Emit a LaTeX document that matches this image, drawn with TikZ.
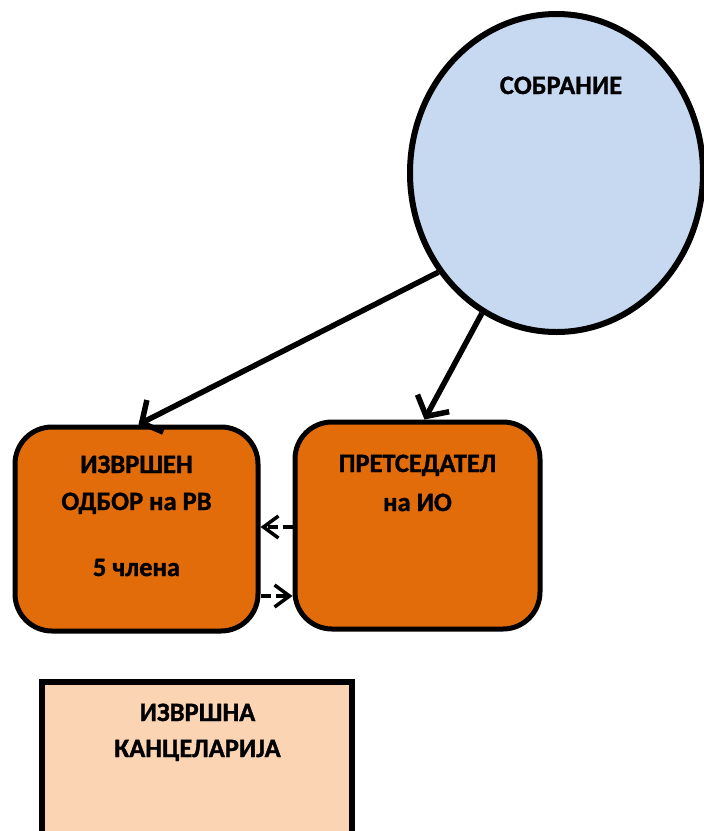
\documentclass[tikz,border=0pt]{standalone}
\usepackage{fontspec}
\setmainfont{Carlito}[BoldFeatures={FakeBold=1.2}]
\usetikzlibrary{shapes.geometric,arrows.meta,calc}
\definecolor{orangefill}{HTML}{E36C0A}
\definecolor{bluefill}{HTML}{C6D9F1}
\definecolor{peachfill}{HTML}{FBD4B4}
\tikzset{
  orgbox/.style={draw=black, line width=5pt, fill=orangefill, rounded corners=37pt, inner sep=0pt},
  txt/.style={anchor=base, inner sep=0pt, font=\bfseries\fontsize{26.5}{30}\selectfont},
  mainarrow/.style={line width=5.5pt, -{Straight Barb[length=15pt,width=36pt,line width=5.5pt]}},
  dasharrow/.style={line width=3.5pt, dash pattern=on 10pt off 5pt, -{Straight Barb[length=15pt,width=22pt,line width=3.5pt]}}
}
\begin{document}
\begin{tikzpicture}[x=1pt,y=-1pt]
\clip (0,0) rectangle (704,831);
\fill[white] (0,0) rectangle (704,831);
% ellipse
\node[ellipse, draw=black, line width=6pt, fill=bluefill, minimum width=293pt, minimum height=318pt, inner sep=0pt] (sobr) at (556.5,173) {};
\node[txt] (sobrt) at (561,94) {СОБРАНИЕ};
% boxes
\node[orgbox, minimum width=243pt, minimum height=204pt] (ib) at (136.5,529) {};
\node[orgbox, minimum width=245pt, minimum height=207pt] (pr) at (417.5,525.5) {};
\node[draw=black, line width=6pt, fill=peachfill, inner sep=0pt, minimum width=310pt, minimum height=180pt] (kan) at (196.5,771.5) {};
% texts
\node[txt] (ib1) at (136.5,473) {ИЗВРШЕН};
\node[txt] (ib2) at (136.5,510) {ОДБОР на РВ};
\node[txt] (ib3) at (136.5,576) {5 члена};
\node[txt] (pr1) at (417.5,472) {ПРЕТСЕДАТЕЛ};
\node[txt] (pr2) at (417.5,511) {на ИО};
\node[txt] (kan1) at (197.5,721) {ИЗВРШНА};
\node[txt] (kan2) at (197.5,757) {КАНЦЕЛАРИЈА};
% main arrows
\coordinate (t1) at ($(ib.north)+(2,0)$);
\coordinate (t2) at ($(pr.north)+(7,0)$);
\draw[mainarrow] (sobr.220.4) -- (t1);
\draw[mainarrow] (sobr.242.8) -- (t2);
% dashed arrows
\coordinate (up) at ([yshift=-1.5pt]pr.west);
\draw[dasharrow] (up) -- (up -| ib.east);
\coordinate (lo) at ([yshift=-67pt]ib.east);
\draw[dasharrow] (lo) -- (lo -| pr.west);
\end{tikzpicture}
\end{document}
